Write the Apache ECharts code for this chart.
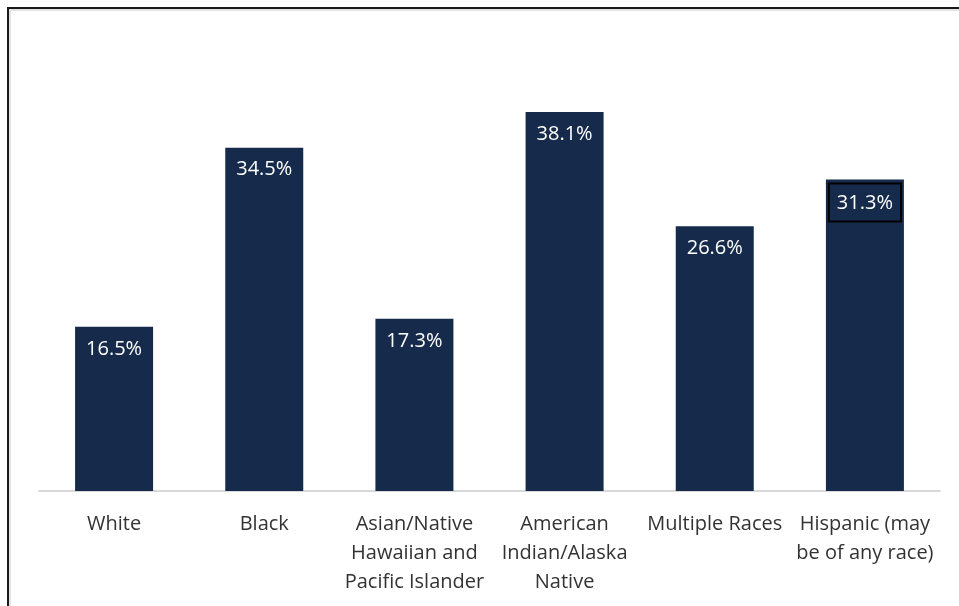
<!DOCTYPE html>
<html>
<head>
<meta charset="utf-8">
<script src="https://cdn.jsdelivr.net/npm/echarts@6/dist/echarts.min.js"></script>
<style>
    html, body { margin:0; padding:0; background:#fff; }
    #wrap { position:relative; width:959px; height:606px; overflow:hidden; }
    #frame { position:absolute; left:7px; top:7px; right:-10px; bottom:-10px; border-top:2px solid #1a1a1a; border-left:2px solid #1a1a1a; }
    #frame-in { position:absolute; left:9px; top:9px; right:-10px; bottom:-10px; border-top:2px solid #e3e3e3; border-left:2px solid #e3e3e3; }
    #chart { position:absolute; left:0; top:0; width:959px; height:606px; }
</style>
</head>
<body>
<div id="wrap">
    <div id="frame"></div>
    <div id="frame-in"></div>
    <div id="chart"></div>
</div>
<script>
    var categories = [
        'White',
        'Black',
        'Asian/Native\nHawaiian and\nPacific Islander',
        'American\nIndian/Alaska\nNative',
        'Multiple Races',
        'Hispanic (may\nbe of any race)'
    ];
    var values = [16.5, 34.5, 17.3, 38.1, 26.6, 31.3];
    // the last label is drawn with a black box round it
    var boxedIndex = 5;

    var fontName = '"Open Sans", "Noto Sans", sans-serif';

    var seriesData = [];
    for(var i=0; i<values.length; i++){
        var item = { value: values[i] };
        if(i === boxedIndex){
            item.label = {
                borderColor: '#000',
                borderWidth: 2,
                padding: [10, 8, 8, 8],
                distance: 4
            };
        }
        seriesData.push(item);
    }

    var chart = echarts.init(document.getElementById('chart'));
    chart.setOption({
        animation: false,
        grid: { left: 39, right: 19, top: 93, bottom: 115 },
        xAxis: {
            type: 'category',
            data: categories,
            axisTick: { show: false },
            axisLine: { lineStyle: { color: '#d9d9d9', width: 2 } },
            axisLabel: {
                interval: 0,
                margin: 19,
                color: '#333',
                fontFamily: fontName,
                fontSize: 20,
                lineHeight: 29
            }
        },
        yAxis: {
            type: 'value',
            min: 0,
            max: 40,
            show: false,
            splitLine: { show: false }
        },
        series: [{
            type: 'bar',
            data: seriesData,
            barWidth: 78,
            itemStyle: { color: '#162b4b' },
            label: {
                show: true,
                position: 'insideTop',
                distance: 12,
                color: '#fff',
                fontFamily: fontName,
                fontSize: 20,
                formatter: function(p){ return p.value.toFixed(1) + '%'; }
            }
        }]
    });
</script>
</body>
</html>
